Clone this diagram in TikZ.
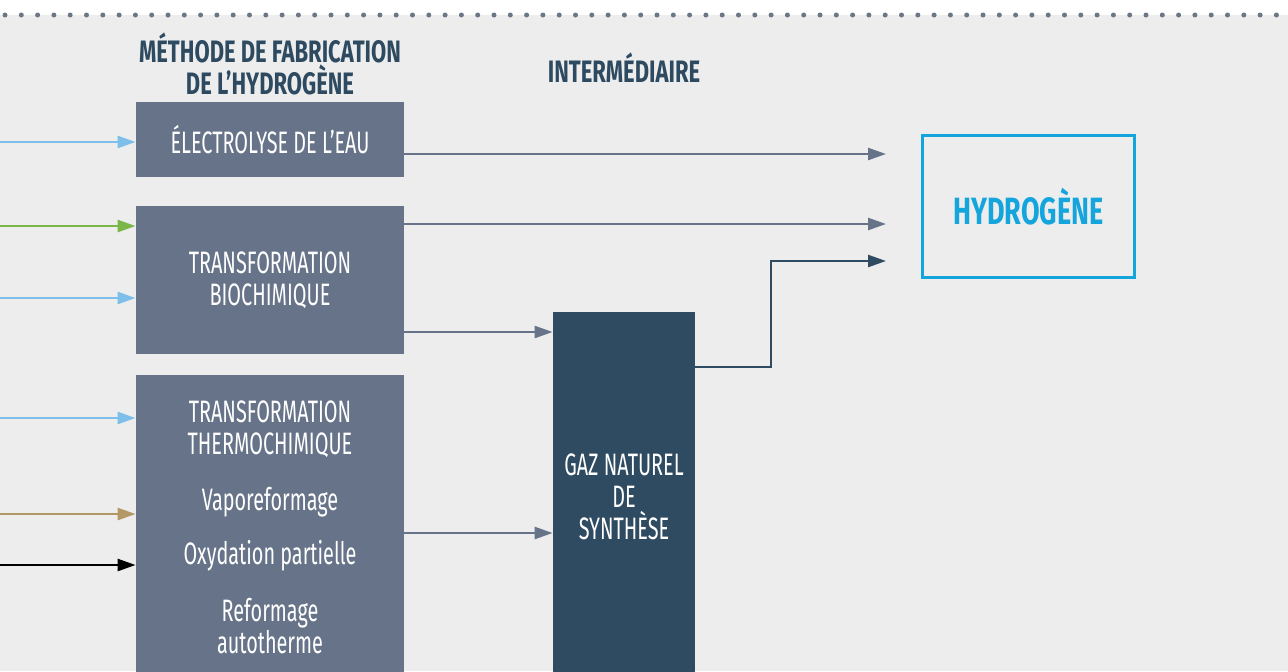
\documentclass[tikz,border=0pt]{standalone}
\usepackage{fontspec}
\setmainfont{Fira Sans}[FakeStretch=0.64, BoldFeatures={FakeStretch=0.71}]
\usepackage{xcolor}
\usetikzlibrary{arrows.meta}
\usetikzlibrary{positioning}

\definecolor{bggray}{HTML}{EDEDED}
\definecolor{dotgray}{HTML}{6B7689}
\definecolor{slatebox}{HTML}{667388}
\definecolor{gazblue}{HTML}{2F4B62}
\definecolor{headblue}{HTML}{2D4A60}
\definecolor{skyblue}{HTML}{7DBFEA}
\definecolor{leafgreen}{HTML}{7AB648}
\definecolor{tan}{HTML}{B39866}
\definecolor{hydroblue}{HTML}{14A5DD}

\tikzset{
    method/.style={fill=slatebox, text=white, minimum width=134pt, inner sep=0pt,
        font=\fontsize{15.5}{16}\selectfont, align=center},
    inner/.style={text=white, inner sep=0pt, font=\fontsize{15.5}{16}\selectfont, align=center},
    head/.style={text=headblue, inner sep=0pt, font=\bfseries\fontsize{15.5}{16}\selectfont, align=center},
    feed/.style={line width=1.25pt, -{Triangle[length=9pt,width=6pt]}},
}

\begin{document}
\begin{tikzpicture}[x=0.5pt,y=-0.5pt]
    \useasboundingbox (0,0) rectangle (1288,671);
    \fill[bggray] (0,15) rectangle (1288,671);
    \foreach \i in {0,...,78}
        \fill[dotgray] (5+\i*16.3,15) circle (1.25pt);

    % column headers
    \node[head] (methodhead) at (270,64) {MÉTHODE DE FABRICATION\\DE L’HYDROGÈNE};
    \node[head] (interhead) at (624,68) {INTERMÉDIAIRE};

    % production methods
    \node[method, minimum height=37.5pt] (elec) at (270,139.5) {ÉLECTROLYSE DE L’EAU};
    \node[method, minimum height=74pt] (bio) at (270,280) {TRANSFORMATION\\BIOCHIMIQUE};
    \node[method, minimum height=157pt] (thermo) at (270,532) {};
    \node[inner] (thermotitle) at (270,429.5) {TRANSFORMATION\\THERMOCHIMIQUE};
    \node[inner] (vapo) at (270,502) {Vaporeformage};
    \node[inner] (oxy) at (270,556) {Oxydation partielle};
    \node[inner] (refo) at (270,626.5) {Reformage\\autotherme};

    % intermediate and product
    \node[method, fill=gazblue, minimum width=71pt, minimum height=189pt] (gaz) at (624,501) {};
    \node[inner] (gaztext) at (624,497) {GAZ NATUREL\\DE\\SYNTHÈSE};
    \node[draw=hydroblue, line width=1.25pt, minimum width=106pt, minimum height=71pt,
        text=hydroblue, font=\bfseries\fontsize{19}{20}\selectfont] (hydro) at (1028.5,206.5) {HYDROGÈNE};

    % inputs
    \coordinate (src1) at (0,142);
    \coordinate (src2) at (0,226);
    \coordinate (src3) at (0,298);
    \coordinate (src4) at (0,418);
    \coordinate (src5) at (0,514);
    \coordinate (src6) at (0,565);
    \draw[feed, skyblue] (src1) -- (src1 -| elec.west);
    \draw[feed, leafgreen] (src2) -- (src2 -| bio.west);
    \draw[feed, skyblue] (src3) -- (src3 -| bio.west);
    \draw[feed, skyblue] (src4) -- (src4 -| thermo.west);
    \draw[feed, tan] (src5) -- (src5 -| thermo.west);
    \draw[feed, black] (src6) -- (src6 -| thermo.west);

    % outputs
    \coordinate (h1) at (886,154);
    \coordinate (h2) at (886,224);
    \coordinate (h3) at (886,261);
    \coordinate (g1) at (0,332);
    \coordinate (g2) at (0,533);
    \coordinate (bend) at (771,367);
    \draw[feed, slatebox] (elec.east |- h1) -- (h1);
    \draw[feed, slatebox] (bio.east |- h2) -- (h2);
    \draw[feed, slatebox] (bio.east |- g1) -- (gaz.west |- g1);
    \draw[feed, slatebox] (thermo.east |- g2) -- (gaz.west |- g2);
    \draw[feed, gazblue] (gaz.east |- bend) -- (bend) |- (h3);
\end{tikzpicture}
\end{document}
